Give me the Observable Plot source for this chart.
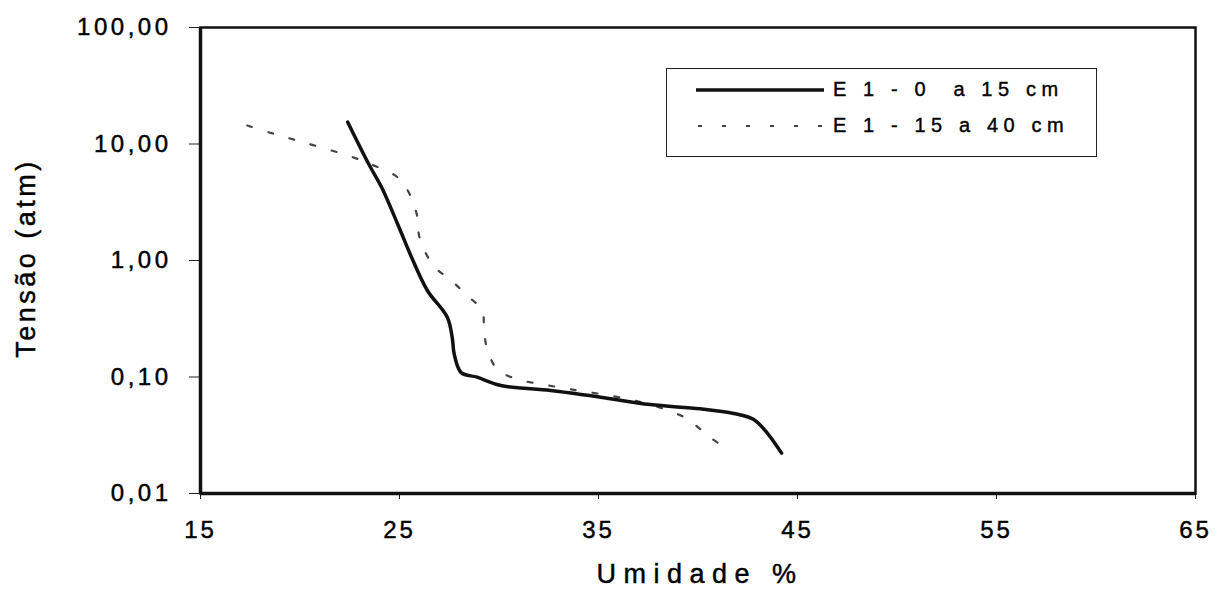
<!DOCTYPE html>
<html><head><meta charset="utf-8">
<script src="https://cdn.jsdelivr.net/npm/d3@7"></script>
<script src="https://cdn.jsdelivr.net/npm/@observablehq/plot@0.6"></script>
<style>
html,body{margin:0;padding:0;background:#fff;}
#wrap{position:relative;width:1222px;height:590px;font-family:"Liberation Sans",Arial,sans-serif;}
#legend{position:absolute;left:666px;top:68px;width:431px;height:89px;border:1.5px solid #222;box-sizing:border-box;background:#fff;}
#legend .row{position:absolute;left:29px;display:flex;align-items:center;font-size:20px;line-height:23px;letter-spacing:5.6px;color:#000;white-space:pre;-webkit-text-stroke:0.4px #000;}
</style></head>
<body><div id="wrap"></div>
<script>
const seriesNames = ["E 1 - 0  a 15 cm", "E 1 - 15 a 40 cm"];
const umidadeA = [22.4, 23.5, 24.1, 24.9, 25.6, 26.4, 27.4, 27.65, 27.75, 28.1, 28.9, 30.1, 32.6, 35.1, 37.6, 40.1, 41.8, 42.8, 43.5, 44.2];
const tensaoA  = [15.4, 6.5, 4.26, 2.07, 1.07, 0.553, 0.326, 0.218, 0.157, 0.109, 0.0996, 0.0845, 0.0766, 0.0671, 0.058, 0.0533, 0.0486, 0.0432, 0.0327, 0.0222];
const umidadeB = [17.35, 18.5, 19.7, 21.0, 22.4, 23.5, 24.9, 25.5, 25.9, 26.0, 26.7, 27.6, 28.4, 29.15, 29.25, 29.4, 29.9, 30.8, 32.2, 33.7, 36.8, 39.3, 40.6, 41.5];
const tensaoB  = [14.4, 12.5, 10.9, 9.4, 7.97, 6.76, 5.19, 3.74, 2.36, 1.59, 0.906, 0.673, 0.501, 0.372, 0.251, 0.175, 0.117, 0.097, 0.0863, 0.078, 0.0628, 0.0452, 0.0304, 0.0239];
const xTicks = [15, 25, 35, 45, 55, 65];
const yTicks = [0.01, 0.1, 1, 10, 100];
const xLabel = "Umidade %";
const yLabel = "Tensão (atm)";

const dataA = umidadeA.map((u, i) => ({u, t: tensaoA[i]}));
const dataB = umidadeB.map((u, i) => ({u, t: tensaoB[i]}));
const fmtY = d => d3.format(".2f")(d).replace(".", ",");

const chart = Plot.plot({
  width: 1222, height: 590,
  marginLeft: 200, marginRight: 27, marginTop: 27, marginBottom: 97,
  style: {fontFamily: "Liberation Sans, Arial, sans-serif", background: "#fff", color: "#000"},
  x: {domain: [15, 65]},
  y: {type: "log", domain: [0.01, 100]},
  marks: [
    Plot.line(dataB, {x: "u", y: "t", curve: "catmull-rom", stroke: "#444", strokeWidth: 2.2, strokeDasharray: "5,17"}),
    Plot.line(dataA, {x: "u", y: "t", curve: "catmull-rom", stroke: "#111", strokeWidth: 3.5}),
    Plot.axisX({ticks: xTicks, tickFormat: d => String(d), tickSize: 6, tickPadding: 21, label: null, stroke: "#222"}),
    Plot.axisY({ticks: yTicks, tickFormat: fmtY, tickSize: 11, tickPadding: 18, label: null, stroke: "#222"}),
    Plot.frame({stroke: "#111", strokeWidth: 2.5}),
    Plot.ruleX([15], {stroke: "#111", strokeWidth: 3.5}),
    Plot.ruleY([0.01], {stroke: "#111", strokeWidth: 3.5})
  ]
});
const svg = d3.select(chart);
svg.selectAll("g[aria-label='x-axis tick label'] text, g[aria-label='x-axis tick label']")
  .style("font-size", "24px").style("letter-spacing", "3px");
svg.selectAll("g[aria-label='y-axis tick label'] text, g[aria-label='y-axis tick label']")
  .style("font-size", "24px").style("letter-spacing", "3.5px");
svg.append("text").attr("x", 700).attr("y", 583).attr("text-anchor", "middle")
  .style("font-size", "27px").style("letter-spacing", "7.5px").attr("fill", "#000").text(xLabel);
svg.append("text").attr("transform", "translate(35,258) rotate(-90)").attr("text-anchor", "middle")
  .style("font-size", "27px").style("letter-spacing", "3.5px").attr("fill", "#000").text(yLabel);
svg.selectAll("text").attr("stroke", "#000").attr("stroke-width", 0.45).attr("paint-order", "stroke");

const wrap = document.getElementById("wrap");
wrap.appendChild(chart);
const leg = document.createElement("div");
leg.id = "legend";
leg.innerHTML = `
 <div class="row" style="top:9px"><svg width="137" height="10"><line x1="0" y1="5" x2="128" y2="5" stroke="#111" stroke-width="3.5"/></svg>${seriesNames[0]}</div>
 <div class="row" style="top:45px"><svg width="137" height="10"><line x1="2" y1="5" x2="137" y2="5" stroke="#444" stroke-width="2.2" stroke-dasharray="4,20"/></svg>${seriesNames[1]}</div>`;
wrap.appendChild(leg);
</script></body></html>
